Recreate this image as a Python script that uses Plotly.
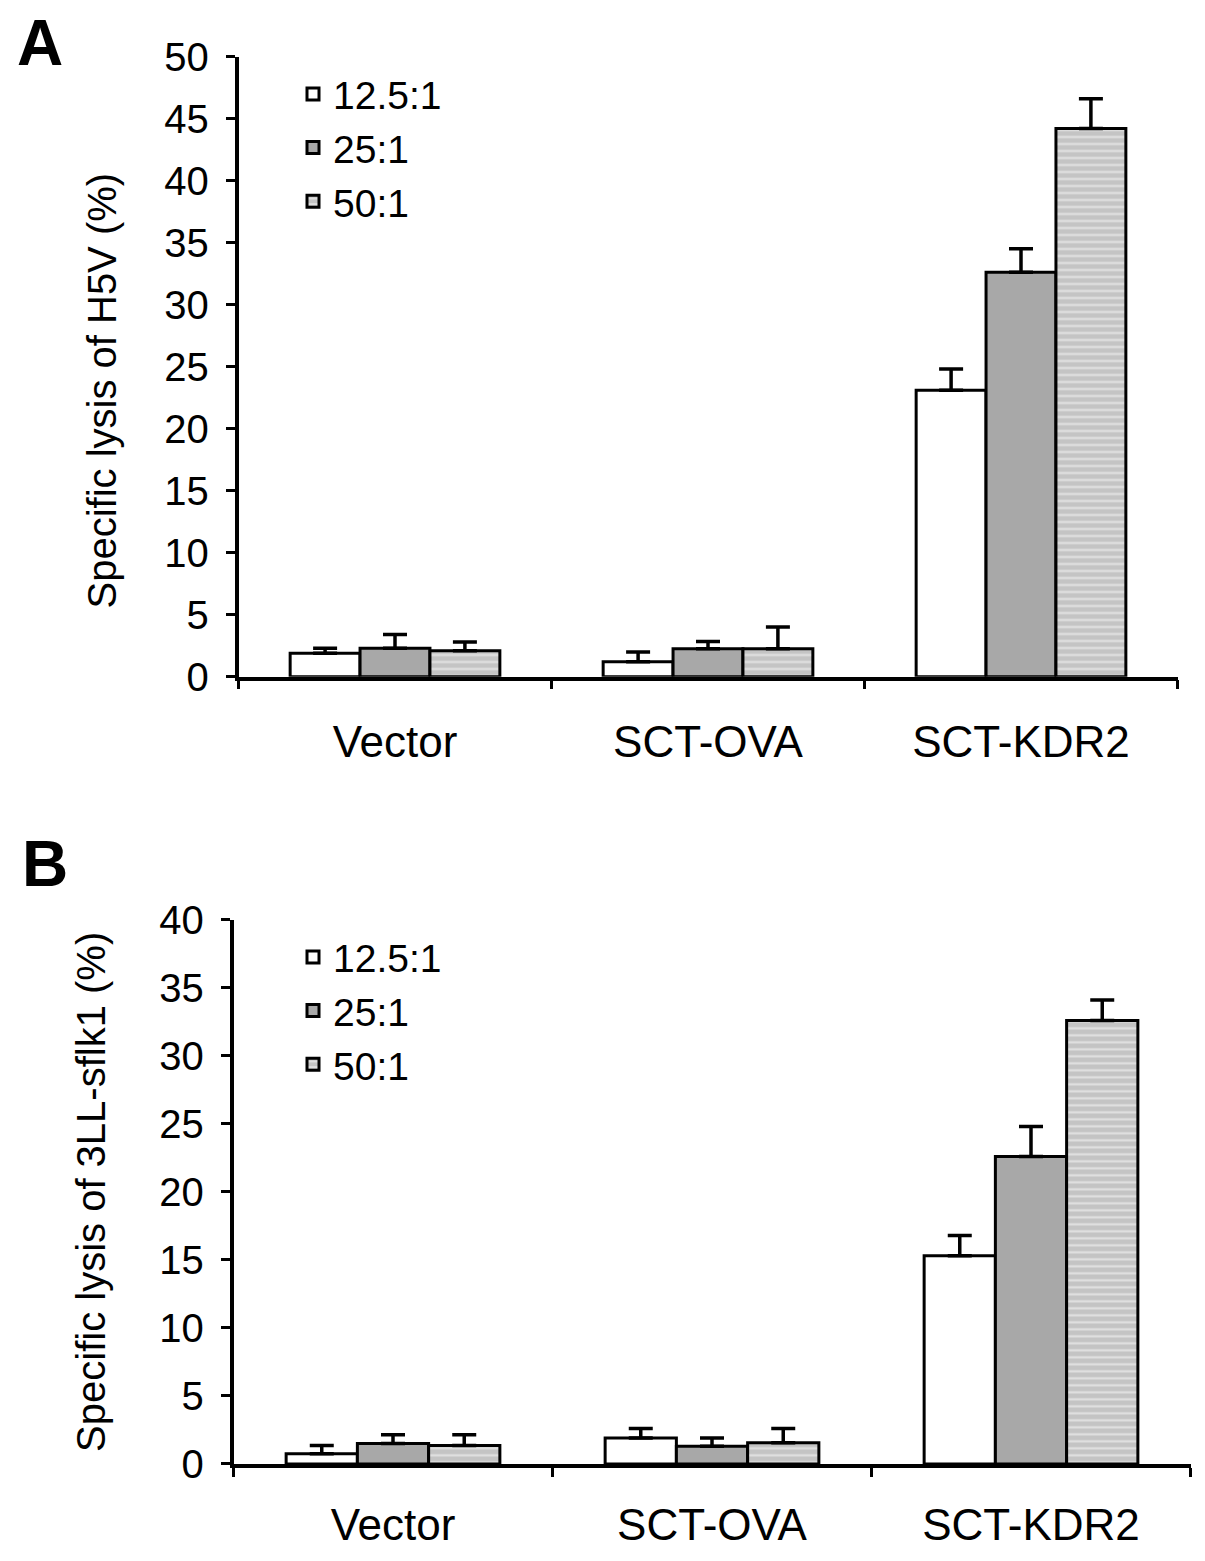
import plotly.graph_objects as go

# groups and E:T ratios
groups = ["Vector", "SCT-OVA", "SCT-KDR2"]
ratios = ["12.5:1", "25:1", "50:1"]

# panel A: H5V lysis (%), upper SD
h5v_mean = {
    "12.5:1": [1.9, 1.2, 23.1],
    "25:1": [2.3, 2.25, 32.6],
    "50:1": [2.1, 2.25, 44.2],
}
h5v_err = {
    "12.5:1": [0.4, 0.8, 1.7],
    "25:1": [1.1, 0.6, 1.9],
    "50:1": [0.7, 1.75, 2.4],
}

# panel B: 3LL-sflk1 lysis (%), upper SD
lll_mean = {
    "12.5:1": [0.75, 1.9, 15.3],
    "25:1": [1.5, 1.3, 22.6],
    "50:1": [1.35, 1.55, 32.6],
}
lll_err = {
    "12.5:1": [0.6, 0.7, 1.5],
    "25:1": [0.65, 0.6, 2.2],
    "50:1": [0.8, 1.05, 1.5],
}

FONT = "Liberation Sans, Arial, sans-serif"

styles = {
    "12.5:1": dict(color="white", pattern=dict(shape="")),
    "25:1": dict(color="#a8a8a8", pattern=dict(shape="")),
    "50:1": dict(color="#c4c4c4", pattern=dict(shape="-", bgcolor="#c4c4c4",
                                              fgcolor="white", size=7, solidity=0.3)),
}

fig = go.Figure()

for (means, errs, xa, ya, lg) in [(h5v_mean, h5v_err, "x", "y", "legend"),
                                  (lll_mean, lll_err, "x2", "y2", "legend2")]:
    for r in ratios:
        fig.add_trace(go.Bar(
            x=groups, y=means[r], name=r, xaxis=xa, yaxis=ya, legend=lg,
            marker=dict(color=styles[r]["color"], pattern=styles[r]["pattern"],
                        line=dict(color="black", width=3)),
            error_y=dict(type="data", array=errs[r], arrayminus=[0] * len(groups),
                         symmetric=False, color="black", thickness=3.5, width=12),
        ))

W, H = 1205, 1561

xcommon = dict(showline=True, linecolor="black", linewidth=3.5, ticks="outside",
               tickson="boundaries", ticklen=9, tickwidth=3, tickcolor="black",
               tickfont=dict(family=FONT, size=44, color="black"),
               showgrid=False, zeroline=False)
ycommon = dict(showline=True, linecolor="black", linewidth=3.5, ticks="outside",
               ticklen=9, tickwidth=3, tickcolor="black", dtick=5,
               tickfont=dict(family=FONT, size=40, color="black"),
               showgrid=False, zeroline=False, ticklabelstandoff=9)
title_font = dict(family=FONT, size=40, color="black")
legend_common = dict(xanchor="left", yanchor="top", bgcolor="rgba(0,0,0,0)",
                     font=dict(family=FONT, size=39), itemwidth=30, tracegroupgap=0)

fig.update_layout(
    width=W, height=H,
    margin=dict(l=0, r=0, t=0, b=0),
    paper_bgcolor="white", plot_bgcolor="white",
    barmode="group", bargap=0.33, bargroupgap=0,
    font=dict(family=FONT, color="black"),
    xaxis=dict(domain=[230.5 / W, 1169.5 / W], anchor="y", ticklabelstandoff=24, **xcommon),
    yaxis=dict(domain=[1 - 665.5 / H, 1 - 27.3 / H], anchor="x", range=[0, 50], **ycommon),
    xaxis2=dict(domain=[225.5 / W, 1182.5 / W], anchor="y2", ticklabelstandoff=20, **xcommon),
    yaxis2=dict(domain=[1 - 1475.5 / H, 1 - 915.6 / H], anchor="x2", range=[0, 40],
                title=dict(text="Specific lysis of 3LL-sflk1 (%)", standoff=42, font=title_font),
                **ycommon),
    legend=dict(x=285 / W, y=1 - 33 / H, **legend_common),
    legend2=dict(x=285 / W, y=1 - 921 / H, **legend_common),
    annotations=[
        dict(text="<b>A</b>", x=32 / W, y=1 - 13 / H, xref="paper", yref="paper",
             xanchor="center", yanchor="middle", showarrow=False,
             font=dict(family=FONT, size=64, color="black")),
        dict(text="<b>B</b>", x=37 / W, y=1 - 858 / H, xref="paper", yref="paper",
             xanchor="center", yanchor="middle", showarrow=False,
             font=dict(family=FONT, size=64, color="black")),
        dict(text="Specific lysis of H5V (%)", textangle=-90, x=94 / W, y=1 - 371 / H,
             xref="paper", yref="paper", xanchor="center", yanchor="middle",
             showarrow=False, font=title_font),
    ],
)

fig.write_html("out.html")
